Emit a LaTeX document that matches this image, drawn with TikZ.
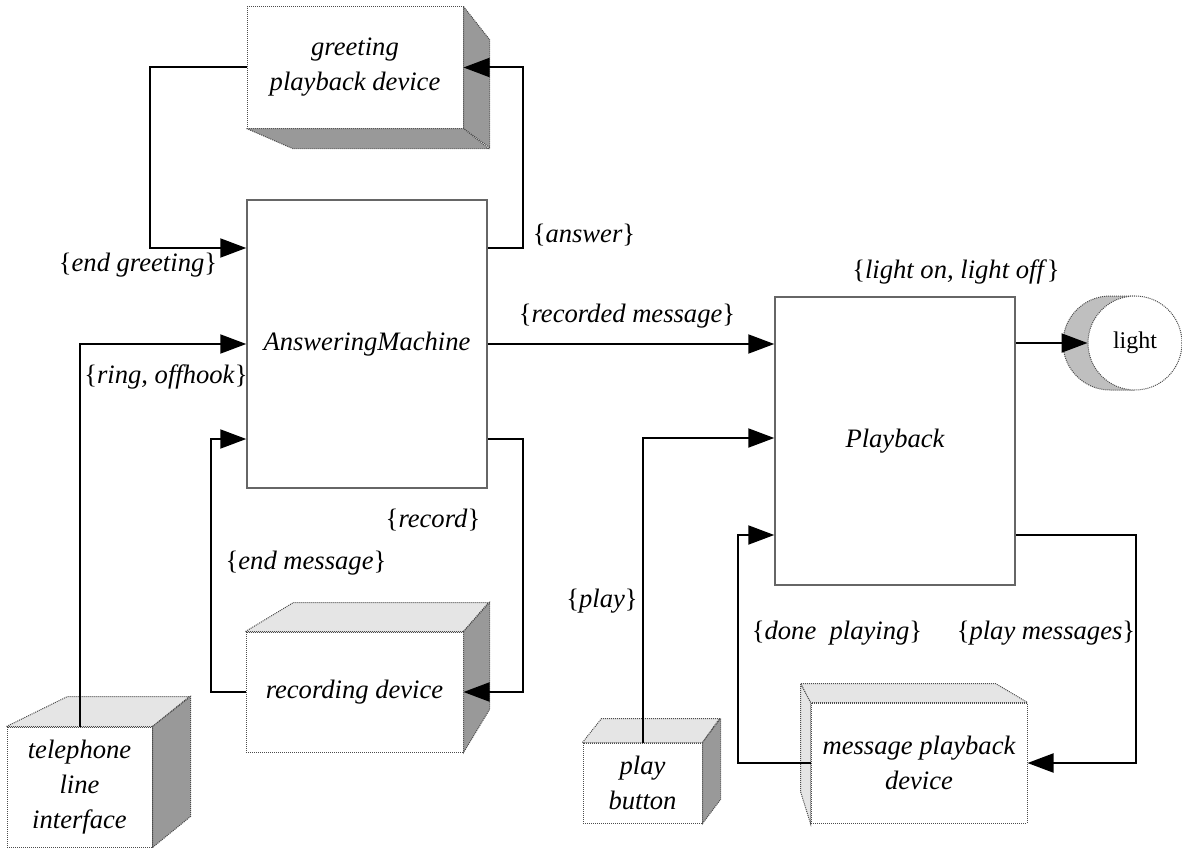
\documentclass[tikz,border=0pt]{standalone}
\usepackage{fontspec}
\setmainfont{Liberation Serif}
\usetikzlibrary{arrows.meta}

\newcommand{\evset}[1]{\textup{\{}#1\textup{\}}}

\begin{document}
\begin{tikzpicture}[x=1pt,y=-1pt,->,>={Triangle[length=26pt,width=19pt]},line width=2pt,
  font=\fontsize{26.6}{35}\selectfont\itshape,
  main node/.style={draw=black!60,line width=1.5pt,fill=white,
  minimum width=240pt,minimum height=288pt,inner sep=0pt},
  device node/.style={draw=black!70,densely dotted,line width=1pt,fill=white,
  inner sep=0pt,align=center},
  light face/.style={-,fill=black!10,draw=black!70,densely dotted,line width=1pt},
  dark face/.style={-,fill=black!40,draw=black!70,densely dotted,line width=1pt},
  label node/.style={inner sep=0pt}]
\useasboundingbox (0,0) rectangle (1182,848);

\node[main node] (am) at (367,344) {AnsweringMachine};
\node[main node] (pb) at (895,441) {Playback};

\node[device node,minimum width=216pt,minimum height=121pt] (greet) at (355,67.5) {greeting\\playback device};
\node[device node,minimum width=145pt,minimum height=120pt] (tel) at (79.5,787) {telephone\\line\\interface};
\node[device node,minimum width=217pt,minimum height=120pt] (rec) at (354.5,692) {recording device};
\node[device node,minimum width=119pt,minimum height=80pt] (btn) at (642.5,783) {play\\button};
\node[device node,minimum width=216pt,minimum height=120pt] (msg) at (919,763) {message playback\\device};

\path[dark face] (greet.north east) -- ++(26,33) -- ++(0,108) -- (greet.south east) -- cycle;
\path[dark face] (greet.south west) -- ++(46,20) -- ++(196,0) -- (greet.south east) -- cycle;
\path[light face] (tel.north west) -- ++(61,-30) -- ++(122,0) -- (tel.north east) -- cycle;
\path[dark face] (tel.north east) -- ++(38,-30) -- ++(0,120) -- (tel.south east) -- cycle;
\path[light face] (rec.north west) -- ++(48,-29) -- ++(195,0) -- (rec.north east) -- cycle;
\path[dark face] (rec.north east) -- ++(26,-29) -- ++(0,107) -- (rec.south east) -- cycle;
\path[light face] (btn.north west) -- ++(19,-24) -- ++(118,0) -- (btn.north east) -- cycle;
\path[dark face] (btn.north east) -- ++(18,-24) -- ++(0,81) -- (btn.south east) -- cycle;
\path[light face] (msg.north west) -- ++(-10,-19) -- ++(195,0) -- (msg.north east) -- cycle;
\path[light face] (msg.north west) -- ++(-10,-19) -- ++(0,108) -- (msg.south west) -- cycle;

\path[-,fill=black!25,draw=black!70,densely dotted,line width=1pt]
  (1135,296) -- (1110,296) arc[start angle=90,end angle=270,radius=47pt] -- (1135,390) -- cycle;
\node[device node,circle,minimum size=94pt,font=\fontsize{24}{28}\selectfont\upshape] (lamp) at (1135,343) {light};

\node[label node] (l1) at (138,265) {\evset{end greeting}};
\node[label node] (l2) at (166,377) {\evset{ring, offhook}};
\node[label node] (l3) at (584,235) {\evset{answer}};
\node[label node] (l4) at (627,316) {\evset{recorded message}};
\node[label node] (l5) at (956,272) {\evset{light on, light off}};
\node[label node] (l6) at (433,520) {\evset{record}};
\node[label node] (l7) at (306,563) {\evset{end message}};
\node[label node] (l8) at (602,601) {\evset{play}};
\node[label node] (l9) at (837,633) {\evset{done\ \ playing}};
\node[label node] (l10) at (1046,633) {\evset{play messages}};

\draw ([yshift=96pt]am.east) -- ++(35,0) |- (greet.east);
\draw (greet.west) -- ++(-97,0) |- ([yshift=96pt]am.west);
\draw (tel.north) |- (am.west);
\draw (rec.west) -- ++(-35,0) |- ([yshift=-95pt]am.west);
\draw ([yshift=-95pt]am.east) -- ++(35,0) |- (rec.east);
\draw (am.east) -- (pb.west |- am.east);
\draw (pb.east |- lamp.west) -- (lamp.west);
\draw (btn.north) |- ([yshift=3pt]pb.west);
\draw (msg.west) -- ++(-73,0) |- ([yshift=-94pt]pb.west);
\draw ([yshift=-94pt]pb.east) -- ++(120,0) |- (msg.east);

\end{tikzpicture}
\end{document}
